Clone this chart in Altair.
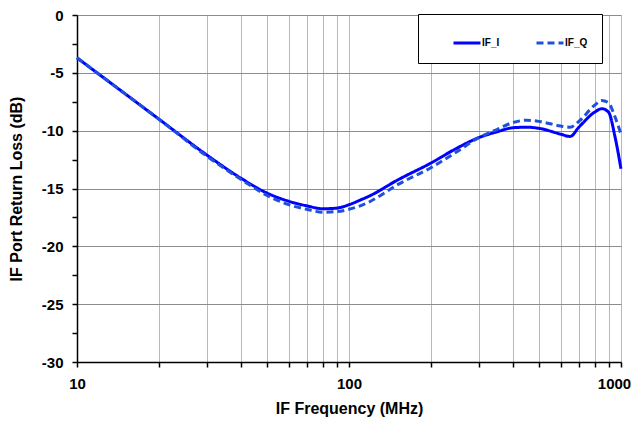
import altair as alt
import pandas as pd

freq = [10, 15, 20, 30, 40, 50, 60, 70, 80, 90, 100, 110, 120, 150, 200, 250,
        300, 350, 400, 450, 500, 600, 650, 700, 800, 850, 900, 950, 1000]
if_i = [-3.7, -6.8, -9.0, -12.1, -14.1, -15.4, -16.1, -16.5, -16.75, -16.7, -16.4,
        -16.0, -15.6, -14.3, -12.8, -11.5, -10.6, -10.1, -9.75, -9.7, -9.8, -10.3,
        -10.5, -9.7, -8.4, -8.1, -8.4, -10.5, -13.3]
if_q = [-3.7, -6.8, -9.0, -12.2, -14.2, -15.6, -16.4, -16.8, -17.05, -17.0, -16.8,
        -16.5, -16.1, -14.7, -13.2, -11.8, -10.6, -9.9, -9.3, -9.1, -9.2, -9.6,
        -9.7, -9.2, -7.8, -7.4, -7.6, -8.8, -10.3]
series_names = ["IF_I", "IF_Q"]
x_ticks = [10, 20, 30, 40, 50, 60, 70, 80, 90, 100, 200, 300, 400, 500, 600,
           700, 800, 900, 1000]
y_ticks = [-30, -27.5, -25, -22.5, -20, -17.5, -15, -12.5, -10, -7.5, -5, -2.5, 0]

rows = []
for f, a, b in zip(freq, if_i, if_q):
    rows.append({"freq": f, "rl": a, "series": "IF_I"})
    rows.append({"freq": f, "rl": b, "series": "IF_Q"})
df = pd.DataFrame(rows)

FONT = "Liberation Sans"

legend = alt.Legend(
    title=None, orient="none", legendX=341, legendY=-1, direction="horizontal",
    fillColor="white", strokeColor="black", padding=14,
    symbolType="stroke", symbolSize=729, symbolStrokeWidth=3,
    labelFont=FONT, labelFontSize=10, labelFontWeight="bold", labelOffset=0,
    columnPadding=15, symbolOffset=20,
)

chart = alt.Chart(df).mark_line(strokeWidth=3, interpolate="monotone").encode(
    x=alt.X("freq:Q",
            scale=alt.Scale(type="log", domain=[10, 1000], nice=False),
            axis=alt.Axis(
                values=x_ticks, grid=True, gridColor="#b8b8b8", gridWidth=1,
                labelExpr="datum.value === 10 || datum.value === 100 || datum.value === 1000 ? toString(datum.value) : ''",
                labelOverlap=False, labelFlush=False,
                labelOffset={"condition": {"test": "datum.value === 1000", "value": -7}, "value": 0},
                labelFont=FONT, labelFontSize=15, labelFontWeight="bold", labelColor="black",
                labelPadding=9, tickSize=5, tickColor="black", tickWidth=1.5,
                domainColor="black", domainWidth=1.5,
                title="IF Frequency (MHz)", titleFont=FONT, titleFontSize=16,
                titleFontWeight="bold", titleColor="black", titleY=38,
            )),
    y=alt.Y("rl:Q",
            scale=alt.Scale(domain=[-30, 0], nice=False),
            axis=alt.Axis(
                values=y_ticks, grid=True, gridColor="#8c8c8c", gridWidth=1,
                gridOpacity={"condition": {"test": "datum.value % 5 === 0", "value": 1}, "value": 0},
                labelExpr="datum.value % 5 === 0 ? toString(datum.value) : ''",
                labelOverlap=False, labelFlush=False,
                labelFont=FONT, labelFontSize=15, labelFontWeight="bold", labelColor="black",
                labelPadding=9, tickSize=5, tickColor="black", tickWidth=1.5,
                domainColor="black", domainWidth=1.5,
                title="IF Port Return Loss (dB)", titleFont=FONT, titleFontSize=16,
                titleFontWeight="bold", titleColor="black", titleX=-53,
            )),
    color=alt.Color("series:N",
                    scale=alt.Scale(domain=series_names, range=["#0000FF", "#1E50DC"]),
                    legend=legend),
    strokeDash=alt.StrokeDash("series:N",
                              scale=alt.Scale(domain=series_names, range=[[1, 0], [7, 4]]),
                              legend=legend),
).properties(
    width=544, height=347,
    padding={"left": 69, "top": 7, "right": 11, "bottom": 59},
    autosize=alt.AutoSizeParams(type="none"),
).configure_view(stroke=None).configure(background="white")

chart.save("out.html", embed_options={"renderer": "svg", "actions": False})
